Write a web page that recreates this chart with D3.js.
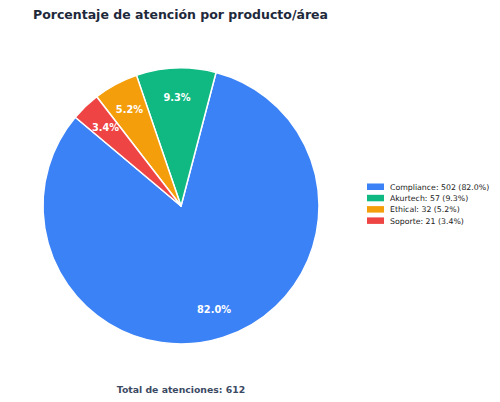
<!DOCTYPE html>
<html>
<head>
<meta charset="utf-8">
<script src="https://cdn.jsdelivr.net/npm/d3@7"></script>
<style>
  body { margin: 0; background: #fff; }
  svg { display: block; font-family: "DejaVu Sans", sans-serif; }
</style>
</head>
<body>
<div id="chart"></div>
<script>
'use strict'

// data
const categories = ['Compliance', 'Akurtech', 'Ethical', 'Soporte']
const counts = [502, 57, 32, 21]
const colors = ['#3b82f6', '#10b981', '#f59e0b', '#ef4444']
const total = d3.sum(counts)

const svgWidth = 500, svgHeight = 402
const cx = 181, cy = 206, radius = 138

const svg = d3.select('#chart').append('svg')
    .attr('width', svgWidth)
    .attr('height', svgHeight)

// title
svg.append('text')
    .attr('x', 33)
    .attr('y', 18.5)
    .attr('font-size', 12.5)
    .attr('font-weight', 'bold')
    .attr('fill', '#1e293b')
    .text('Porcentaje de atención por producto/área')

// pie, counterclockwise starting at 140deg (matplotlib style)
const start = (90 - 140) * Math.PI / 180
const pie = d3.pie().sort(null)
    .startAngle(start)
    .endAngle(start - 2 * Math.PI)

const arcs = pie(counts)
const arc = d3.arc().innerRadius(0).outerRadius(radius)
const labelArc = d3.arc().innerRadius(radius * 0.79).outerRadius(radius * 0.79)

const g = svg.append('g').attr('transform', `translate(${cx},${cy})`)

g.selectAll('path')
    .data(arcs)
    .join('path')
    .attr('d', arc)
    .attr('fill', (d, i) => colors[i])
    .attr('stroke', '#fff')
    .attr('stroke-width', 1.5)
    .attr('stroke-linejoin', 'round')

g.selectAll('.pct')
    .data(arcs)
    .join('text')
    .attr('class', 'pct')
    .attr('transform', d => `translate(${labelArc.centroid(d)})`)
    .attr('text-anchor', 'middle')
    .attr('dy', '0.36em')
    .attr('font-size', 9.8)
    .attr('font-weight', 'bold')
    .attr('fill', '#fff')
    .text(d => (d.value / total * 100).toFixed(1) + '%')

// legend
const legend = svg.append('g').attr('transform', 'translate(367,187)')
const rows = legend.selectAll('g')
    .data(categories)
    .join('g')
    .attr('transform', (d, i) => `translate(0,${i * 11.3})`)

rows.append('rect')
    .attr('x', 0).attr('y', -3.5)
    .attr('width', 17).attr('height', 6.5)
    .attr('fill', (d, i) => colors[i])

rows.append('text')
    .attr('x', 23)
    .attr('dy', '0.35em')
    .attr('font-size', 7.8)
    .attr('fill', '#222')
    .text((d, i) => `${d}: ${counts[i]} (${(counts[i] / total * 100).toFixed(1)}%)`)

// footer
svg.append('text')
    .attr('x', cx)
    .attr('y', 392.5)
    .attr('text-anchor', 'middle')
    .attr('font-size', 9.3)
    .attr('font-weight', 'bold')
    .attr('fill', '#3b4a63')
    .text(`Total de atenciones: ${total}`)
</script>
</body>
</html>
